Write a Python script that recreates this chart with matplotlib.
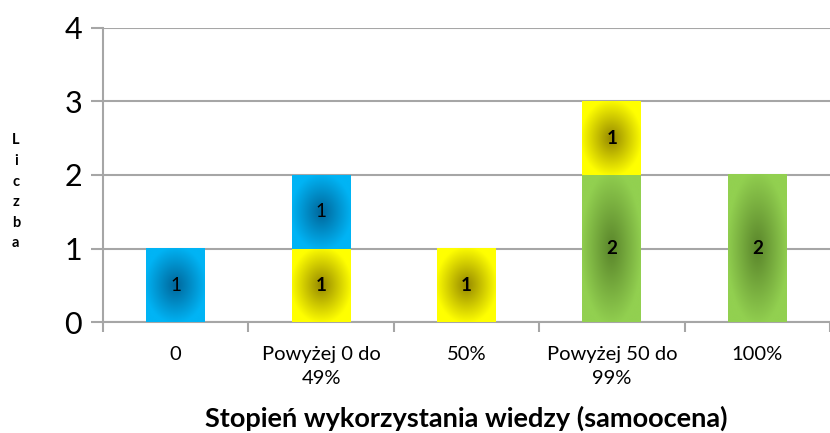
import numpy as np
import matplotlib
matplotlib.use("Agg")
import matplotlib.pyplot as plt
from matplotlib.colors import LinearSegmentedColormap

plt.rcParams['font.family'] = ['Lato', 'DejaVu Sans']

categories = ["0", "Powyżej 0 do\n49%", "50%", "Powyżej 50 do\n99%", "100%"]
# series in stacking order (bottom to top)
green = [0, 0, 0, 2, 2]
yellow = [0, 1, 1, 1, 0]
blue = [1, 1, 0, 0, 0]

series = [
    (green, "#92D050", "#5A852B", "bold"),
    (yellow, "#FFFF00", "#958800", "bold"),
    (blue, "#00B4F5", "#00669A", "normal"),
]

fig = plt.figure(figsize=(8.3, 4.33), dpi=100)
ax = fig.add_axes([0.124, 0.256, 0.876, 0.68])

x = np.arange(len(categories))
width = 0.405

# radial gradient, stretched to each bar
n = 200
yy, xx = np.mgrid[-1:1:n * 1j, -1:1:n * 1j]
rr = np.clip(np.sqrt(xx ** 2 + yy ** 2) / 1.05, 0, 1)

bottom = np.zeros(len(categories))
for vals, edge, center, weight in series:
    cmap = LinearSegmentedColormap.from_list("g", [center, edge])
    for i, v in enumerate(vals):
        if v == 0:
            continue
        x0, x1 = x[i] - width / 2, x[i] + width / 2
        y0, y1 = bottom[i], bottom[i] + v
        ax.imshow(rr, cmap=cmap, extent=[x0, x1, y0, y1], aspect='auto',
                  vmin=0, vmax=1, zorder=3, interpolation='bilinear')
        ax.text(x[i], (y0 + y1) / 2, str(v), ha='center', va='center',
                fontsize=13.5, fontweight=weight, color='black', zorder=4)
    bottom += np.array(vals)

ax.set_xlim(-0.5, len(categories) - 0.5)
ax.set_ylim(0, 4)
ax.set_yticks([0, 1, 2, 3, 4])
ax.set_yticklabels(["0", "1", "2", "3", "4"], fontsize=22)
ax.yaxis.grid(True, color="#A6A6A6", linewidth=1.5, zorder=0)
ax.set_axisbelow(True)

ax.set_xticks(x)
ax.set_xticklabels(categories, fontsize=14.5, linespacing=1.55)
ax.tick_params(axis='x', length=0, pad=17)
ax.set_xticks(np.arange(-0.5, len(categories)), minor=True)
ax.tick_params(axis='x', which='minor', length=7, color="#A6A6A6", width=1.5)
ax.tick_params(axis='y', length=9, color="#A6A6A6", width=1.5, pad=6)

for s in ['top', 'right']:
    ax.spines[s].set_visible(False)
ax.spines['left'].set_color("#A6A6A6")
ax.spines['left'].set_linewidth(1.5)
ax.spines['bottom'].set_color("#A6A6A6")
ax.spines['bottom'].set_linewidth(1.5)

ax.set_xlabel("Stopień wykorzystania wiedzy (samoocena)", fontsize=19.5,
              fontweight='bold', labelpad=13)
fig.text(0.019, 0.557, "L\ni\nc\nz\nb\na", fontsize=10.5, fontweight='bold',
         ha='center', va='center', linespacing=1.6)

fig.savefig("out.png", dpi=100)
